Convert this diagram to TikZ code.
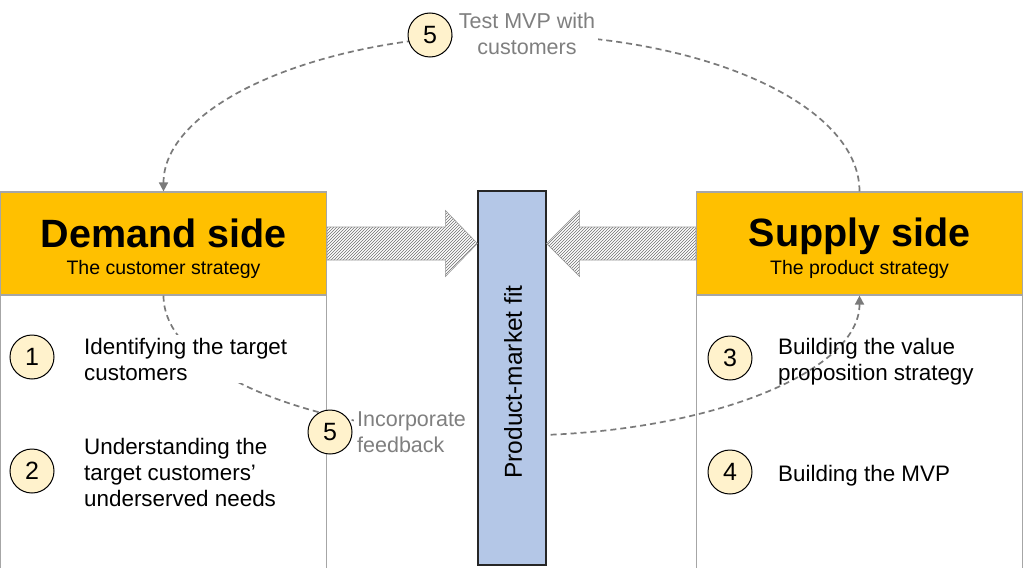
\documentclass[tikz,border=0pt]{standalone}
\usepackage{fontspec}
\setmainfont{Liberation Sans}
\usetikzlibrary{arrows.meta,patterns,calc}
\definecolor{orangeH}{HTML}{FFC000}
\definecolor{boxgray}{HTML}{A6A6A6}
\definecolor{pmfblue}{HTML}{B4C7E7}
\definecolor{circfill}{HTML}{FFF2CC}
\definecolor{dashgray}{HTML}{7A7A7A}
\definecolor{textgray}{HTML}{7F7F7F}
\definecolor{hatchgray}{HTML}{707070}
\begin{document}
\begin{tikzpicture}[x=1pt,y=-1pt,
  header/.style={draw=boxgray, line width=1.2pt, fill=orangeH, minimum width=326pt, minimum height=103pt, inner sep=0pt},
  body/.style={draw=boxgray, line width=1.2pt, fill=white, minimum width=326pt, minimum height=280pt, inner sep=0pt},
  title/.style={font=\fontsize{39.5}{40}\selectfont\bfseries, anchor=base, inner sep=0pt},
  subtitle/.style={font=\fontsize{19.5}{20}\selectfont, anchor=base, inner sep=0pt},
  item/.style={font=\fontsize{22.4}{26}\selectfont, align=left, anchor=base west, inner sep=3pt},
  graytext/.style={font=\fontsize{21.5}{26}\selectfont, text=textgray, inner sep=3pt, fill=white},
  circ/.style={circle, draw=black, line width=1pt, fill=circfill, minimum size=44pt, inner sep=0pt, font=\fontsize{25}{25}\selectfont},
  dashline/.style={draw=dashgray, line width=1.7pt, dash pattern=on 6pt off 4pt, -{Triangle[length=9pt,width=9pt]}},
  hatch/.style={pattern=north east lines, pattern color=hatchgray, draw=gray!80, line width=0.6pt}
]
\useasboundingbox (0,0) rectangle (1024,567);
\fill[white] (0,0) rectangle (1024,567);

% boxes
\node[body] (db) at (163.5,435) {};
\node[body] (sb) at (859.5,435) {};
\node[header] (dh) at (163.5,243.5) {};
\node[header] (sh) at (859.5,243.5) {};

% dashed feedback loops
\coordinate (toparc) at ($(sh.north)!0.5!(dh.north)+(0,-157)$);
\coordinate (botarc) at ($(dh.south)!0.5!(sh.south)+(0,140)$);
\draw[dashline] (sh.north) .. controls +(0,-86.7) and +(192.2,0) .. (toparc)
  .. controls +(-192.2,0) and +(0,-86.7) .. (dh.north);
\draw[dashline] (dh.south) .. controls +(0,77.3) and +(-192.2,0) .. (botarc)
  .. controls +(192.2,0) and +(0,77.3) .. (sh.south);

% header texts
\node[title] (dtitle) at (163.5,247) {Demand side};
\node[subtitle] (dsub) at (163.5,274) {The customer strategy};
\node[title] (stitle) at (859.5,246) {Supply side};
\node[subtitle] (ssub) at (859.5,274) {The product strategy};

% item texts (base anchor = last line baseline)
\node[item, fill=white] (t1) at (81,380) {Identifying the target\\customers};
\node[item] (t2) at (81,506) {Understanding the\\target customers’\\underserved needs};
\node[item] (t3) at (775,380) {Building the value\\proposition strategy};
\node[item] (t4) at (775,481) {Building the MVP};
\node[graytext, anchor=base west, align=left, text width=118pt] (t5) at (354,426) {Incorporate\\feedback};
\node[graytext, anchor=base, align=center] (t6) at (527,55) {Test MVP with\\customers};

% number circles
\node[circ] (c1) at (32,357) {1};
\node[circ] (c2) at (32,471) {2};
\node[circ] (c3) at (730,358) {3};
\node[circ] (c4) at (730,472) {4};
\node[circ] (c5b) at (330,432) {5};
\node[circ] (c5t) at (430,35) {5};

% product-market fit bar
\node[draw=black!85, line width=1.2pt, fill=pmfblue, minimum width=68pt, minimum height=374pt, inner sep=0pt] (pmf) at (512,378) {};
\node[rotate=90, font=\fontsize{24.5}{25}\selectfont, inner sep=0pt] (pmftext) at (513,382) {Product-market fit};

% hatched arrows
\coordinate (lt) at (pmf.west |- dh.east);
\coordinate (rt) at (pmf.east |- sh.west);
\path[hatch] ($(dh.east)+(0,-16.5)$) -- ($(lt)+(-32,-16.5)$) -- ($(lt)+(-32,-33)$) -- (lt)
  -- ($(lt)+(-32,33)$) -- ($(lt)+(-32,16.5)$) -- ($(dh.east)+(0,16.5)$) -- cycle;
\path[hatch] ($(sh.west)+(0,-16.5)$) -- ($(rt)+(33,-16.5)$) -- ($(rt)+(33,-33)$) -- (rt)
  -- ($(rt)+(33,33)$) -- ($(rt)+(33,16.5)$) -- ($(sh.west)+(0,16.5)$) -- cycle;
\end{tikzpicture}
\end{document}
